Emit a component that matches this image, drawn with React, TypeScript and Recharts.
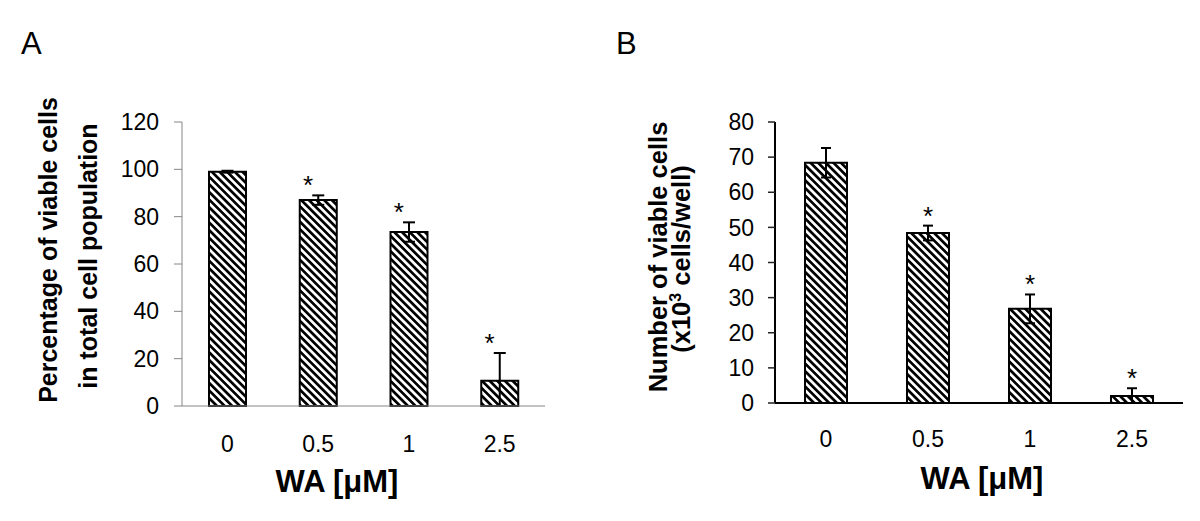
import { ComposedChart, Bar, ErrorBar, Scatter, XAxis, YAxis, Label } from 'recharts';

const doses = ['0', '0.5', '1', '2.5'];

// panel A: % viable cells
const viablePct = [99, 87, 73.5, 10.7];
const viablePctErr = [0.4, 2, 4.1, 11.7];
const viablePctSig = [false, true, true, true];
const pctTicks = [0, 20, 40, 60, 80, 100, 120];

// panel B: number of viable cells (x10^3 / well)
const viableCount = [68.4, 48.4, 26.8, 2];
const viableCountErr = [4.2, 2.1, 4.1, 2.2];
const viableCountSig = [false, true, true, true];
const countTicks = [0, 10, 20, 30, 40, 50, 60, 70, 80];

const FONT = 'Liberation Sans, Arial, sans-serif';

// lower whisker never goes under the axis
const buildRows = (vals: number[], errs: number[], sig: boolean[]) =>
  doses.map((dose, i) => ({
    dose,
    value: vals[i],
    err: [Math.min(errs[i], vals[i]), errs[i]],
    sig: sig[i],
    top: vals[i] + errs[i],
  }));

const rowsA = buildRows(viablePct, viablePctErr, viablePctSig);
const rowsB = buildRows(viableCount, viableCountErr, viableCountSig);

const starShape = (dx: number) => (props: any) => {
  const { cx, cy, payload } = props;
  if (!payload || !payload.sig) return <g />;
  return (
    <text x={cx + dx} y={cy - 1} textAnchor="middle" fontSize={26} fontFamily={FONT} fill="#000">
      *
    </text>
  );
};

function Hatch({ id }: { id: string }) {
  return (
    <defs>
      <pattern id={id} patternUnits="userSpaceOnUse" width={5.4} height={10} patternTransform="rotate(-45)">
        <rect width={5.4} height={10} fill="#fff" />
        <rect width={2.7} height={10} fill="#000" />
      </pattern>
    </defs>
  );
}

const titlesA = () => (
  <g fontFamily={FONT} fill="#000">
    <text x={21} y={54} fontSize={31}>A</text>
    <text transform="rotate(-90, 57, 250)" x={57} y={250} textAnchor="middle" fontSize={25} fontWeight="bold">
      Percentage of viable cells
    </text>
    <text transform="rotate(-90, 97, 256)" x={97} y={256} textAnchor="middle" fontSize={25} fontWeight="bold">
      in total cell population
    </text>
    <text x={337} y={492} textAnchor="middle" fontSize={31} fontWeight="bold">
      WA [μM]
    </text>
  </g>
);

const titlesB = () => (
  <g fontFamily={FONT} fill="#000">
    <text x={16} y={54} fontSize={31}>B</text>
    <text transform="rotate(-90, 67, 257)" x={67} y={257} textAnchor="middle" fontSize={25.5} fontWeight="bold">
      Number of viable cells
    </text>
    <text transform="rotate(-90, 90, 259)" x={90} y={259} textAnchor="middle" fontSize={25.5} fontWeight="bold">
      (x10<tspan dy={-9} fontSize={16}>3</tspan>
      <tspan dy={9}> cells/well)</tspan>
    </text>
    <text x={382} y={489} textAnchor="middle" fontSize={31} fontWeight="bold">
      WA [μM]
    </text>
  </g>
);

export default function App() {
  const tick = { fontSize: 23, fill: '#000', fontFamily: FONT };
  const grayLine = { stroke: '#868686', strokeWidth: 1 };
  const darkLine = { stroke: '#000', strokeWidth: 2 };

  return (
    <div style={{ position: 'absolute', left: 0, top: 0, width: 1200, height: 521, background: '#fff' }}>
      <div style={{ position: 'absolute', left: 0, top: 0 }}>
        <ComposedChart width={600} height={521} data={rowsA} margin={{ top: 122, right: 55, bottom: 0, left: 0 }}>
          <Hatch id="hatchA" />
          <XAxis dataKey="dose" height={115} tick={tick} tickLine={false} tickSize={0} tickMargin={30} axisLine={grayLine} interval={0} />
          <XAxis xAxisId="top" dataKey="dose" orientation="top" height={0} tick={false} tickLine={false} axisLine={grayLine} />
          <YAxis width={182} domain={[0, 120]} ticks={pctTicks} tick={tick} tickSize={8} tickMargin={15} tickLine={grayLine} axisLine={grayLine}>
            <Label content={titlesA} />
          </YAxis>
          <YAxis yAxisId="right" orientation="right" width={0} domain={[0, 120]} tick={false} tickLine={false} axisLine={grayLine} />
          <Bar dataKey="value" barSize={37} fill="url(#hatchA)" stroke="#000" strokeWidth={2} isAnimationActive={false}>
            <ErrorBar dataKey="err" width={6} stroke="#000" strokeWidth={2} direction="y" />
          </Bar>
          <Scatter dataKey="top" shape={starShape(-10)} isAnimationActive={false} />
        </ComposedChart>
      </div>
      <div style={{ position: 'absolute', left: 600, top: 0 }}>
        <ComposedChart width={600} height={521} data={rowsB} margin={{ top: 122, right: 17, bottom: 0, left: 0 }}>
          <Hatch id="hatchB" />
          <XAxis dataKey="dose" height={118} tick={tick} tickLine={false} tickSize={0} tickMargin={28} axisLine={darkLine} interval={0} />
          <XAxis xAxisId="top" dataKey="dose" orientation="top" height={0} tick={false} tickLine={false} axisLine={darkLine} />
          <YAxis width={175} domain={[0, 80]} ticks={countTicks} tick={tick} tickSize={7} tickMargin={14} tickLine={{ stroke: '#222', strokeWidth: 1.5 }} axisLine={darkLine}>
            <Label content={titlesB} />
          </YAxis>
          <YAxis yAxisId="right" orientation="right" width={0} domain={[0, 80]} tick={false} tickLine={false} axisLine={darkLine} />
          <Bar dataKey="value" barSize={42} fill="url(#hatchB)" stroke="#000" strokeWidth={2} isAnimationActive={false}>
            <ErrorBar dataKey="err" width={5} stroke="#000" strokeWidth={2} direction="y" />
          </Bar>
          <Scatter dataKey="top" shape={starShape(0)} isAnimationActive={false} />
        </ComposedChart>
      </div>
    </div>
  );
}
